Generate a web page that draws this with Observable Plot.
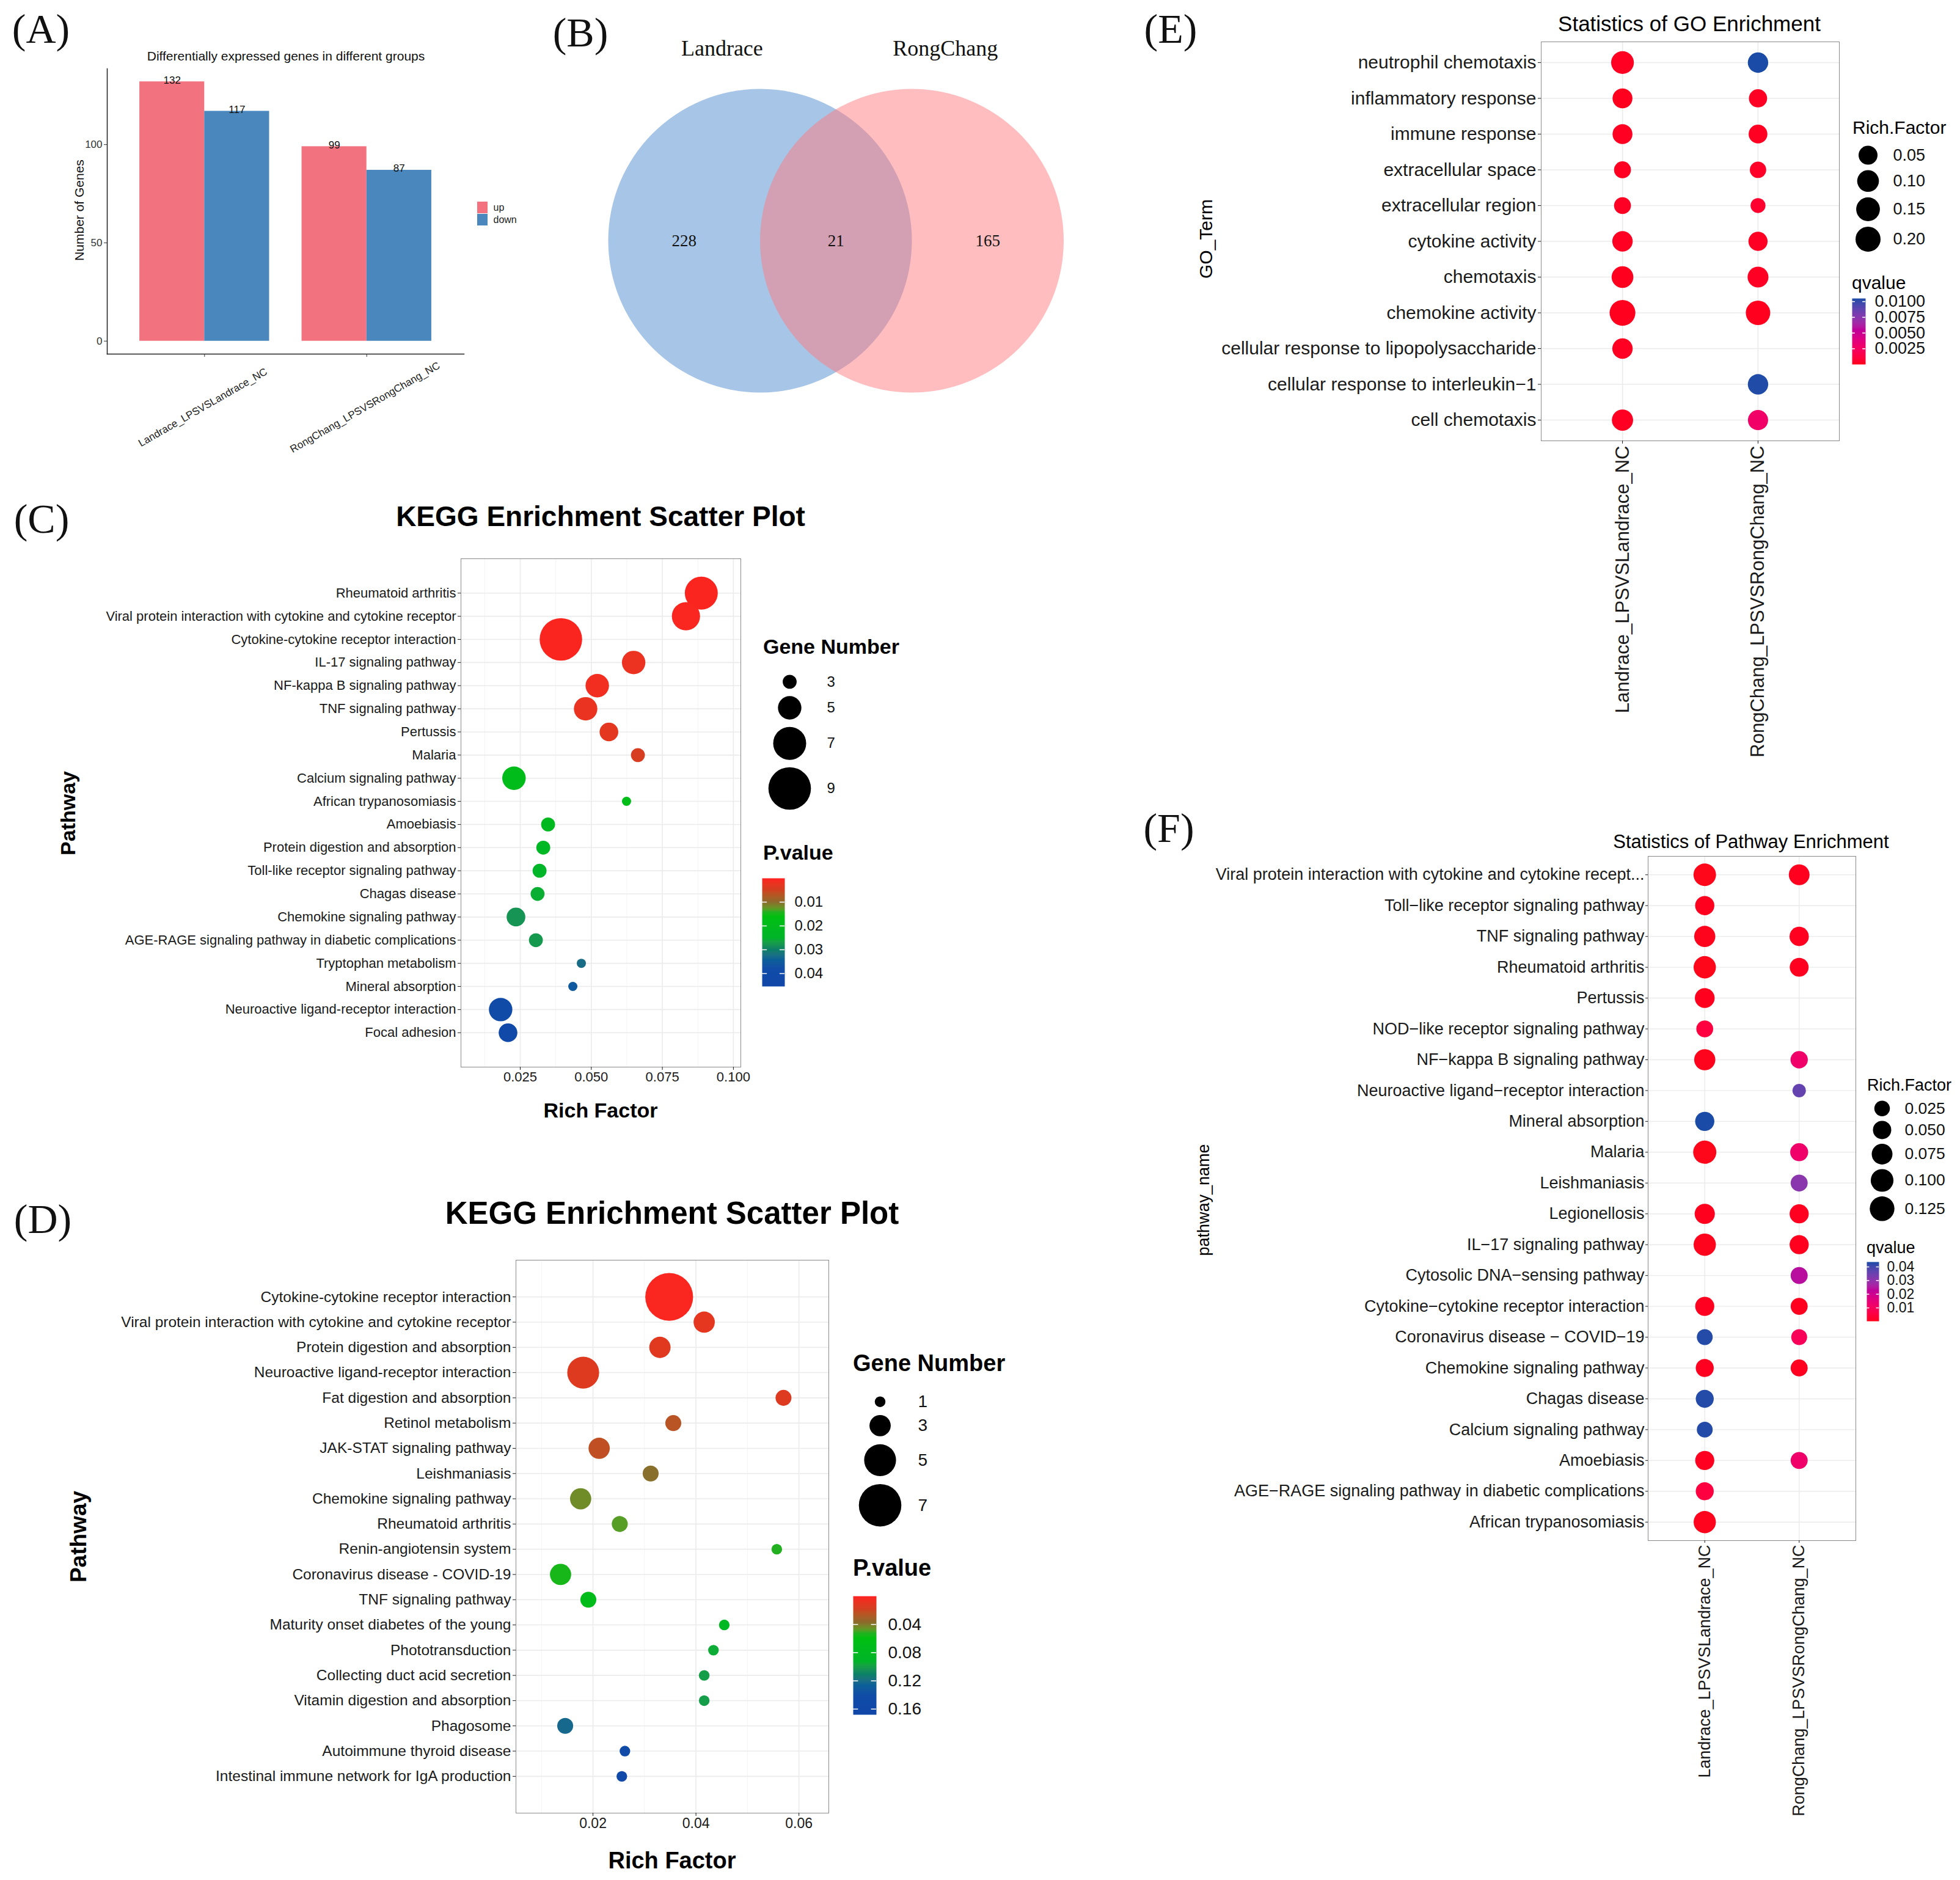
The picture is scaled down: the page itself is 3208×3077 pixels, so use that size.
<!DOCTYPE html>
<html><head><meta charset="utf-8">
<script src="https://cdn.jsdelivr.net/npm/d3@7"></script>
<script src="https://cdn.jsdelivr.net/npm/@observablehq/plot@0.6"></script>
<style>
html,body{margin:0;padding:0;background:#fff;}
#root{position:relative;width:3208px;height:3077px;background:#fff;overflow:hidden;}
.abs{position:absolute;white-space:nowrap;line-height:1;}
</style></head><body><div id="root"></div>
<script>
// ================= DATA =================
// (A) DEG counts
const degGroups = ["Landrace_LPSVSLandrace_NC", "RongChang_LPSVSRongChang_NC"];
const degTypes = ["up", "down"];
const degUp = [132, 99];
const degDown = [117, 87];

// (B) Venn
const vennSets = ["Landrace", "RongChang"];
const vennOnly = [228, 165];
const vennShared = 21;

// (C) KEGG scatter, Landrace
const cPath = ["Rheumatoid arthritis","Viral protein interaction with cytokine and cytokine receptor","Cytokine-cytokine receptor interaction","IL-17 signaling pathway","NF-kappa B signaling pathway","TNF signaling pathway","Pertussis","Malaria","Calcium signaling pathway","African trypanosomiasis","Amoebiasis","Protein digestion and absorption","Toll-like receptor signaling pathway","Chagas disease","Chemokine signaling pathway","AGE-RAGE signaling pathway in diabetic complications","Tryptophan metabolism","Mineral absorption","Neuroactive ligand-receptor interaction","Focal adhesion"];
const cRich = [0.0887,0.0833,0.0393,0.0649,0.0521,0.0480,0.0562,0.0664,0.0228,0.0624,0.0348,0.0331,0.0318,0.0311,0.0235,0.0305,0.0465,0.0435,0.0181,0.0207];
const cGenes = [7,6,9,5,5,5,4,3,5,2,3,3,3,3,4,3,2,2,5,4];
const cP = [0.0004,0.0006,0.0004,0.0020,0.0015,0.0022,0.0030,0.0042,0.0190,0.0185,0.0210,0.0230,0.0245,0.0255,0.0280,0.0275,0.0325,0.0355,0.0390,0.0420];
const cSizeKeys = [3,5,7,9];
const cColorTicks = [0.01,0.02,0.03,0.04];
const cXTicks = [0.025,0.050,0.075,0.100];

// (D) KEGG scatter, RongChang
const dPath = ["Cytokine-cytokine receptor interaction","Viral protein interaction with cytokine and cytokine receptor","Protein digestion and absorption","Neuroactive ligand-receptor interaction","Fat digestion and absorption","Retinol metabolism","JAK-STAT signaling pathway","Leishmaniasis","Chemokine signaling pathway","Rheumatoid arthritis","Renin-angiotensin system","Coronavirus disease - COVID-19","TNF signaling pathway","Maturity onset diabetes of the young","Phototransduction","Collecting duct acid secretion","Vitamin digestion and absorption","Phagosome","Autoimmune thyroid disease","Intestinal immune network for IgA production"];
const dRich = [0.0348,0.0416,0.0330,0.0181,0.0570,0.0356,0.0212,0.0312,0.0176,0.0252,0.0557,0.0137,0.0191,0.0455,0.0434,0.0416,0.0416,0.0146,0.0262,0.0256];
const dGenes = [8,3,3,5,2,2,3,2,3,2,1,3,2,1,1,1,1,2,1,1];
const dP = [0.002,0.010,0.012,0.013,0.013,0.025,0.023,0.038,0.044,0.048,0.052,0.055,0.070,0.085,0.095,0.100,0.100,0.122,0.145,0.155];
const dSizeKeys = [1,3,5,7];
const dColorTicks = [0.04,0.08,0.12,0.16];
const dXTicks = [0.02,0.04,0.06];

// (E) GO enrichment
const goGroups = ["Landrace_LPSVSLandrace_NC","RongChang_LPSVSRongChang_NC"];
const goTerms = ["neutrophil chemotaxis","inflammatory response","immune response","extracellular space","extracellular region","cytokine activity","chemotaxis","chemokine activity","cellular response to lipopolysaccharide","cellular response to interleukin\u22121","cell chemotaxis"];
const goRichL = [0.125,0.067,0.067,0.039,0.039,0.076,0.100,0.226,0.076,null,0.091];
const goRichR = [0.076,0.046,0.049,0.036,0.028,0.054,0.085,0.177,null,0.076,0.072];
const goQL = [0.0002,0.0001,0.0002,0.0002,0.0003,0.0002,0.0001,0.0001,0.0002,null,0.0002];
const goQR = [0.0105,0.0003,0.0002,0.0004,0.0006,0.0003,0.0003,0.0001,null,0.0104,0.0028];
const eSizeKeys = [0.05,0.10,0.15,0.20];
const eColorTicks = [0.0100,0.0075,0.0050,0.0025];

// (F) Pathway enrichment
const fGroups = ["Landrace_LPSVSLandrace_NC","RongChang_LPSVSRongChang_NC"];
const fPath = ["Viral protein interaction with cytokine and cytokine recept...","Toll\u2212like receptor signaling pathway","TNF signaling pathway","Rheumatoid arthritis","Pertussis","NOD\u2212like receptor signaling pathway","NF\u2212kappa B signaling pathway","Neuroactive ligand\u2212receptor interaction","Mineral absorption","Malaria","Leishmaniasis","Legionellosis","IL\u221217 signaling pathway","Cytosolic DNA\u2212sensing pathway","Cytokine\u2212cytokine receptor interaction","Coronavirus disease \u2212 COVID\u221219","Chemokine signaling pathway","Chagas disease","Calcium signaling pathway","Amoebiasis","AGE\u2212RAGE signaling pathway in diabetic complications","African trypanosomiasis"];
const fRichL = [0.098,0.059,0.080,0.095,0.065,0.037,0.080,null,0.059,0.106,null,0.069,0.094,null,0.058,0.028,0.047,0.047,0.028,0.058,0.047,0.094];
const fRichR = [0.075,null,0.060,0.056,null,null,0.041,0.0116,null,0.047,0.038,0.058,0.058,0.038,0.038,0.028,0.038,null,null,0.038,null,null];
const fQL = [0.0003,0.0006,0.0004,0.0003,0.0006,0.0050,0.0004,null,0.0436,0.0003,null,0.0006,0.0004,null,0.0008,0.0430,0.0008,0.0430,0.0430,0.0008,0.0050,0.0004];
const fQR = [0.0006,null,0.0008,0.0008,null,null,0.0120,0.0360,null,0.0120,0.0310,0.0008,0.0006,0.0240,0.0008,0.0090,0.0008,null,null,0.0120,null,null];
const fSizeKeys = [0.025,0.050,0.075,0.100,0.125];
const fColorTicks = [0.04,0.03,0.02,0.01];

// ================= HELPERS =================
const FONT = "'Liberation Sans', Arial, Helvetica, sans-serif";
const SERIF = "'Liberation Serif', 'Times New Roman', Times, serif";
const root = document.getElementById("root");
function place(el, left, top) {
  el.style.position = "absolute"; el.style.left = left + "px"; el.style.top = top + "px";
  el.style.background = "transparent"; el.style.overflow = "visible"; el.style.maxWidth = "none";
  root.appendChild(el); return el;
}
function addText(txt, x, y, o = {}) {
  const d = document.createElement("div");
  d.className = "abs"; d.textContent = txt;
  d.style.left = x + "px"; d.style.top = y + "px";
  d.style.fontSize = (o.size || 20) + "px"; d.style.fontWeight = o.weight || "normal";
  d.style.fontFamily = o.family || FONT; d.style.color = o.color || "#000";
  const tx = o.anchor === "start" ? "0" : o.anchor === "end" ? "-100%" : "-50%";
  d.style.transform = `translate(${tx}, -50%)` + (o.rotate ? ` rotate(${o.rotate}deg)` : "");
  root.appendChild(d);
}
function baseStyle(size, color) {
  return {fontFamily: FONT, fontSize: size + "px", color: color || "#1a1a1a", background: "transparent", overflow: "visible"};
}
function sizeLegend({keys, rOpts, fmt, cx, cy0, gap, labelX, fontSize}) {
  const rs = Plot.scale({r: rOpts});
  const radii = keys.map(k => rs.apply(k));
  const ys = []; let y = cy0;
  radii.forEach((r, i) => { if (i > 0) y += radii[i - 1] + r + gap; ys.push(y); });
  const rows = keys.map((k, i) => ({k, y: ys[i]}));
  const left = cx - 40, top = cy0 - radii[0] - 6;
  const height = ys[ys.length - 1] + radii[radii.length - 1] + 6 - top;
  const width = labelX - left + 110;
  const svg = Plot.plot({
    width, height, margin: 0, style: baseStyle(fontSize, "#111"),
    x: {type: "identity", axis: null}, y: {type: "identity", axis: null}, r: rOpts,
    marks: [
      Plot.dot(rows, {x: () => cx - left, y: d => d.y - top, r: "k", fill: "black", stroke: null}),
      Plot.text(rows, {x: () => labelX - left, y: d => d.y - top, text: d => fmt(d.k), textAnchor: "start", fontSize, fill: "#111"})
    ]
  });
  place(svg, left, top);
}
function colorBar({colorOpts, d0, d1, ticks, fmt, left, top, w, h, gap, fontSize}) {
  const svg = Plot.plot({
    width: w + 130, height: h, marginLeft: 0, marginTop: 0, marginBottom: 0, marginRight: 130,
    style: baseStyle(fontSize, "#111"),
    x: {domain: [0, 1], axis: null}, y: {domain: [d0, d1], range: [0, h], axis: null},
    color: colorOpts,
    marks: [
      Plot.raster({x1: 0, x2: 1, y1: d0, y2: d1, width: 1, height: Math.round(h), fill: (x, yv) => yv, imageRendering: "auto"}),
      Plot.tickY(ticks, {y: d => d, stroke: "white", strokeWidth: 1.5, insetRight: w * 0.78}),
      Plot.tickY(ticks, {y: d => d, stroke: "white", strokeWidth: 1.5, insetLeft: w * 0.78}),
      Plot.text(ticks, {y: d => d, frameAnchor: "right", dx: gap, textAnchor: "start", text: fmt, fontSize, fill: "#111"})
    ]
  });
  place(svg, left, top);
}
// red-green-blue ramp used by the KEGG plots (relative stop positions × domain max)
const rgbStops = [0, 0.11, 0.22, 0.31, 0.35, 0.55, 0.66, 0.75, 0.84, 1];
const rgbColors = ["#FF2020","#D04020","#8C6A2C","#20B020","#00C010","#00B428","#088068","#0A6098","#104CA8","#1046A8"];
function rgbScale(max) {
  return {type: "linear", domain: rgbStops.map(t => t * max), range: rgbColors, interpolate: d3.interpolateLab};
}

// ================= PANEL A =================
const tableA = degGroups.flatMap((g, gi) => degTypes.map((t, ti) => ({group: g, gi, type: t, ti, value: (t === "up" ? degUp : degDown)[gi]})));
const barW = 0.4;
const colorA = {domain: degTypes, range: ["#F2737F", "#4A87BC"]};
const plotA = Plot.plot({
  width: 900, height: 760, marginLeft: 175, marginRight: 141, marginTop: 112, marginBottom: 181,
  style: baseStyle(17, "#333"),
  x: {domain: [0.4, 2.6], axis: null},
  y: {domain: [-6.6, 138.6], axis: null},
  color: colorA,
  marks: [
    Plot.rectY(tableA, {x1: d => d.gi + 1 - barW + d.ti * barW, x2: d => d.gi + 1 + d.ti * barW, y1: 0, y2: "value", fill: "type"}),
    Plot.text(tableA, {x: d => d.gi + 1 - barW / 2 + d.ti * barW, y: "value", text: d => String(d.value), lineAnchor: "bottom", dy: 3, fontSize: 17, fill: "#111"}),
    Plot.frame({anchor: "left", stroke: "#222", strokeWidth: 1.5}),
    Plot.frame({anchor: "bottom", stroke: "#222", strokeWidth: 1.5}),
    Plot.axisY({ticks: [0, 50, 100], tickSize: 5, tickPadding: 3, fontSize: 17, label: null}),
    Plot.axisX({ticks: [1, 2], tickSize: 5, tickFormat: () => "", label: null}),
    Plot.text(degGroups, {x: (d, i) => i + 1, frameAnchor: "bottom", dy: 92, rotate: -30, text: d => d, fontSize: 17, textAnchor: "middle", fill: "#222"})
  ]
});
place(plotA, 0, 0);
const legA = Plot.plot({
  width: 70, height: 42, margin: 0, style: baseStyle(15, "#222"),
  x: {type: "identity", axis: null}, y: {type: "band", domain: degTypes, range: [0, 42], padding: 0.04, axis: null},
  color: colorA,
  marks: [
    Plot.barX(degTypes, {y: d => d, x1: 0, x2: 17, fill: d => d}),
    Plot.text(degTypes, {y: d => d, x: 26, text: d => d, textAnchor: "start", fontSize: 16, fill: "#222"})
  ]
});
place(legA, 781, 329);
addText("Differentially expressed genes in different groups", 468, 91, {size: 21, color: "#111"});
addText("Number of Genes", 129, 344, {size: 21, rotate: -90, color: "#111"});

// ================= PANEL B =================
const vennFill = ["#4F8BCF", "#FF7B7F"];
const vennCounts = [vennOnly[0], vennShared, vennOnly[1]];
const plotB = Plot.plot({
  width: 900, height: 700, margin: 0, style: {fontFamily: SERIF, background: "transparent", overflow: "visible"},
  x: {domain: [-1.3823, 2.2394], axis: null},
  y: {domain: [-1.2334, 1.5835], axis: null},
  r: {type: "linear", domain: [0, 1], range: [0, 248.5]},
  color: {type: "identity"},
  marks: [
    Plot.dot(vennSets, {x: (d, i) => i, y: () => 0, r: () => 1, fill: (d, i) => vennFill[i], fillOpacity: 0.5, stroke: null}),
    Plot.text(vennCounts, {x: (d, i) => i - 0.5, y: () => 0, text: d => String(d), fontSize: 27, fontFamily: SERIF, fill: "#111"}),
    Plot.text(vennSets, {x: (d, i) => (i === 0 ? -0.25 : 1.22), y: () => 1.266, text: d => d, fontSize: 36, fontFamily: SERIF, fill: "#111"})
  ]
});
place(plotB, 900, 0);

// ================= PANEL C =================
const tableC = cPath.map((p, i) => ({pathway: p, rich: cRich[i], genes: cGenes[i], p: cP[i]}));
const rC = {type: "linear", domain: [3, 9], range: [11.4, 34.8]};
const colC = rgbScale(0.0454);
const plotC = Plot.plot({
  width: 1560, height: 960, marginLeft: 754, marginRight: 348, marginTop: 14, marginBottom: 114,
  style: baseStyle(22, "#1a1a1a"),
  x: {domain: [0.00415, 0.1026], axis: null},
  y: {type: "point", domain: cPath, padding: 1.485, round: false, axis: null},
  r: rC, color: colC,
  marks: [
    Plot.gridX([0.0125, 0.0375, 0.0625, 0.0875], {stroke: "#F4F4F4", strokeOpacity: 1, strokeWidth: 1}),
    Plot.gridX(cXTicks, {stroke: "#EBEBEB", strokeOpacity: 1, strokeWidth: 1.6}),
    Plot.gridY({stroke: "#EBEBEB", strokeOpacity: 1, strokeWidth: 1.6}),
    Plot.dot(tableC, {x: "rich", y: "pathway", r: "genes", fill: "p", stroke: null}),
    Plot.frame({stroke: "#8a8a8a"}),
    Plot.axisX({ticks: cXTicks, tickFormat: ".3f", tickSize: 5, tickPadding: 3, fontSize: 22, label: null}),
    Plot.axisY({tickSize: 5, tickPadding: 3, fontSize: 22, label: null})
  ]
});
place(plotC, 0, 900);
addText("KEGG Enrichment Scatter Plot", 983, 845, {size: 46, weight: "bold"});
addText("Rich Factor", 983, 1817, {size: 34, weight: "bold"});
addText("Pathway", 111, 1331, {size: 34, weight: "bold", rotate: -90});
addText("Gene Number", 1249, 1058, {size: 34, weight: "bold", anchor: "start"});
addText("P.value", 1249, 1395, {size: 34, weight: "bold", anchor: "start"});
sizeLegend({keys: cSizeKeys, rOpts: rC, fmt: d => String(d), cx: 1292, cy0: 1115.5, gap: 12, labelX: 1353, fontSize: 24});
colorBar({colorOpts: colC, d0: 0, d1: 0.0454, ticks: cColorTicks, fmt: d => d3.format(".2f")(d), left: 1247, top: 1437, w: 37, h: 177, gap: 16, fontSize: 24});

// ================= PANEL D =================
const tableD = dPath.map((p, i) => ({pathway: p, rich: dRich[i], genes: dGenes[i], p: dP[i]}));
const rD = {type: "linear", domain: [1, 7], range: [8.7, 34.8]};
const colD = rgbScale(0.168);
const plotD = Plot.plot({
  width: 1700, height: 1127, marginLeft: 844, marginRight: 344, marginTop: 112, marginBottom: 110,
  style: baseStyle(24, "#1a1a1a"),
  x: {domain: [0.00504, 0.0658], axis: null},
  y: {type: "point", domain: dPath, padding: 1.457, round: false, axis: null},
  r: rD, color: colD,
  marks: [
    Plot.gridX([0.01, 0.03, 0.05], {stroke: "#F4F4F4", strokeOpacity: 1, strokeWidth: 1}),
    Plot.gridX(dXTicks, {stroke: "#EBEBEB", strokeOpacity: 1, strokeWidth: 1.6}),
    Plot.gridY({stroke: "#EBEBEB", strokeOpacity: 1, strokeWidth: 1.6}),
    Plot.dot(tableD, {x: "rich", y: "pathway", r: "genes", fill: "p", stroke: null}),
    Plot.frame({stroke: "#8a8a8a"}),
    Plot.axisX({ticks: dXTicks, tickFormat: ".2f", tickSize: 5, tickPadding: 3, fontSize: 23, label: null}),
    Plot.axisY({tickSize: 5, tickPadding: 3, fontSize: 24.5, label: null})
  ]
});
place(plotD, 0, 1950);
addText("KEGG Enrichment Scatter Plot", 1100, 1985, {size: 51, weight: "bold"});
addText("Rich Factor", 1100, 3045, {size: 38, weight: "bold"});
addText("Pathway", 128, 2515, {size: 37, weight: "bold", rotate: -90});
addText("Gene Number", 1396, 2231, {size: 38, weight: "bold", anchor: "start"});
addText("P.value", 1396, 2566, {size: 38, weight: "bold", anchor: "start"});
sizeLegend({keys: dSizeKeys, rOpts: rD, fmt: d => String(d), cx: 1440, cy0: 2294, gap: 13, labelX: 1502, fontSize: 28});
colorBar({colorOpts: colD, d0: 0, d1: 0.168, ticks: dColorTicks, fmt: d => d3.format(".2f")(d), left: 1396, top: 2612, w: 38, h: 194, gap: 19, fontSize: 28});

// ================= PANEL E =================
const tableE = [];
goTerms.forEach((t, i) => {
  if (goRichL[i] != null) tableE.push({term: t, group: goGroups[0], rich: goRichL[i], q: goQL[i]});
  if (goRichR[i] != null) tableE.push({term: t, group: goGroups[1], rich: goRichR[i], q: goQR[i]});
});
const rE = {type: "linear", domain: [0.028, 0.05, 0.10, 0.15, 0.20, 0.23], range: [12.2, 15.5, 17.8, 19.4, 20.5, 21.2]};
const colE = {type: "linear", domain: [0, 0.0105], range: ["#FF0A1A", "#1A4BA6"], interpolate: d3.interpolateHcl};
const plotE = Plot.plot({
  width: 1308, height: 1300, marginLeft: 622, marginRight: 198, marginTop: 68, marginBottom: 579,
  style: baseStyle(30, "#1a1a1a"),
  x: {type: "point", domain: goGroups, padding: 0.6, round: false, axis: null},
  y: {type: "point", domain: goTerms, padding: 0.58, round: false, axis: null},
  r: rE, color: colE,
  marks: [
    Plot.gridX({stroke: "#EBEBEB", strokeOpacity: 1, strokeWidth: 1.6}),
    Plot.gridY({stroke: "#EBEBEB", strokeOpacity: 1, strokeWidth: 1.6}),
    Plot.dot(tableE, {x: "group", y: "term", r: "rich", fill: "q", stroke: null}),
    Plot.frame({stroke: "#8a8a8a"}),
    Plot.axisX({tickRotate: -90, fontSize: 31, tickSize: 5, tickPadding: 3, label: null}),
    Plot.axisY({fontSize: 30, tickSize: 5, tickPadding: 3, label: null})
  ]
});
place(plotE, 1900, 0);
addText("Statistics of GO Enrichment", 2765, 38, {size: 35});
addText("GO_Term", 1974, 391, {size: 30, rotate: -90});
addText("Rich.Factor", 3032, 209, {size: 30, anchor: "start"});
addText("qvalue", 3031, 463, {size: 30, anchor: "start"});
sizeLegend({keys: eSizeKeys, rOpts: rE, fmt: d => d3.format(".2f")(d), cx: 3057, cy0: 253, gap: 9, labelX: 3098, fontSize: 27});
colorBar({colorOpts: colE, d0: 0.0105, d1: 0, ticks: eColorTicks, fmt: d => d3.format(".4f")(d), left: 3031, top: 488, w: 22, h: 108, gap: 15, fontSize: 27});

// ================= PANEL F =================
const tableF = [];
fPath.forEach((t, i) => {
  if (fRichL[i] != null) tableF.push({path: t, group: fGroups[0], rich: fRichL[i], q: fQL[i]});
  if (fRichR[i] != null) tableF.push({path: t, group: fGroups[1], rich: fRichR[i], q: fQR[i]});
});
const rF = {type: "linear", domain: [0.01, 0.025, 0.05, 0.075, 0.10, 0.125, 0.14], range: [10.8, 12.7, 15, 17, 18.6, 20.2, 21]};
const colF = {type: "linear", domain: [0.0002, 0.0436], range: ["#FF0A1A", "#1A4BA6"], interpolate: d3.interpolateHcl};
const plotF = Plot.plot({
  width: 1308, height: 1697, marginLeft: 797, marginRight: 171, marginTop: 21, marginBottom: 556,
  style: baseStyle(27, "#1a1a1a"),
  x: {type: "point", domain: fGroups, padding: 0.6, round: false, axis: null},
  y: {type: "point", domain: fPath, padding: 0.6, round: false, axis: null},
  r: rF, color: colF,
  marks: [
    Plot.gridX({stroke: "#EBEBEB", strokeOpacity: 1, strokeWidth: 1.4}),
    Plot.gridY({stroke: "#EBEBEB", strokeOpacity: 1, strokeWidth: 1.4}),
    Plot.dot(tableF, {x: "group", y: "path", r: "rich", fill: "q", stroke: null}),
    Plot.frame({stroke: "#8a8a8a"}),
    Plot.axisX({tickRotate: -90, fontSize: 27, tickSize: 4, tickPadding: 3, label: null}),
    Plot.axisY({fontSize: 27, tickSize: 4, tickPadding: 2, label: null})
  ]
});
place(plotF, 1900, 1380);
addText("Statistics of Pathway Enrichment", 2866, 1377, {size: 31});
addText("pathway_name", 1970, 1964, {size: 27, rotate: -90});
addText("Rich.Factor", 3056, 1776, {size: 27, anchor: "start"});
addText("qvalue", 3055, 2042, {size: 27, anchor: "start"});
sizeLegend({keys: fSizeKeys, rOpts: rF, fmt: d => d3.format(".3f")(d), cx: 3080, cy0: 1813.8, gap: 7.5, labelX: 3117, fontSize: 26.5});
colorBar({colorOpts: colF, d0: 0.0436, d1: 0.0002, ticks: fColorTicks, fmt: d => d3.format(".2f")(d), left: 3055, top: 2065, w: 20, h: 97, gap: 13, fontSize: 23});

// ================= PANEL LETTERS =================
[["(A)", 67, 47], ["(B)", 950, 53], ["(C)", 68, 849], ["(D)", 70, 1995], ["(E)", 1916, 47], ["(F)", 1913, 1355]]
  .forEach(([t, x, y]) => addText(t, x, y, {size: 68, family: SERIF, color: "#111"}));
</script></body></html>
